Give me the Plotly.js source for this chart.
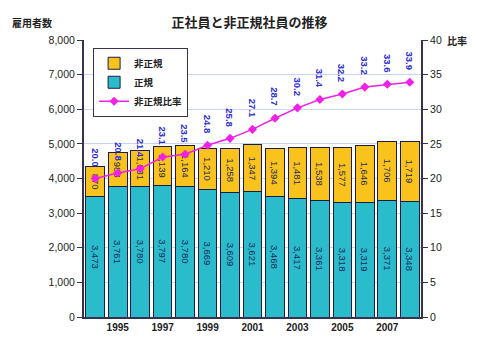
<!DOCTYPE html>
<html><head><meta charset="utf-8">
<script src="https://cdn.plot.ly/plotly-3.0.1.min.js"></script>
<style>body{margin:0;background:#fff}#c{width:480px;height:349px}</style>
</head><body><div id="c"></div>
<script>
const years = [1994,1995,1996,1997,1998,1999,2000,2001,2002,2003,2004,2005,2006,2007,2008];
const regular = [3473,3761,3780,3797,3780,3669,3609,3621,3468,3417,3361,3318,3319,3371,3348];
const nonRegular = [870,988,1031,1139,1164,1210,1258,1347,1394,1481,1538,1577,1646,1706,1719];
const ratio = [20.0,20.8,21.4,23.1,23.5,24.8,25.8,27.1,28.7,30.2,31.4,32.2,33.2,33.6,33.9];
const tickYears = [1995,1997,1999,2001,2003,2005,2007];
const tickLabels = ["1995","1997","1999","2001","2003","2005","2007"];

const fmt = v => v.toLocaleString('en-US');
const jp = '"Noto Sans CJK JP", sans-serif';
const lat = 'Arial, "Liberation Sans", sans-serif';

const traces = [
  {type:'bar', x:years, y:regular, name:'正規', legendrank:2,
   marker:{color:'#2bbccc', line:{color:'#1c1c4a', width:1}},
   text:regular.map(fmt), textposition:'inside', insidetextanchor:'middle', textangle:90,
   constraintext:'none', textfont:{family:lat, size:9.5, color:'#1c2a5a'}, hoverinfo:'none'},
  {type:'bar', x:years, y:nonRegular, name:'非正規', legendrank:1,
   marker:{color:'#f9c21c', line:{color:'#1c1c4a', width:1}},
   text:nonRegular.map(fmt), textposition:'inside', insidetextanchor:'middle', textangle:90,
   constraintext:'none', textfont:{family:lat, size:9.5, color:'#1c2a5a'}, hoverinfo:'none'},
  {type:'scatter', mode:'lines+markers', x:years, y:ratio, yaxis:'y2', name:'非正規比率', legendrank:3,
   line:{color:'#f020e8', width:1.5}, marker:{symbol:'diamond', size:7, color:'#f020e8'}, hoverinfo:'none'}
];

const annotations = years.map((yr,i)=>({
  x:yr, y:ratio[i], xref:'x', yref:'y2', text:ratio[i].toFixed(1),
  showarrow:false, textangle:90, yshift:21,
  font:{family:lat, size:9.5, color:'#2a2ad8', weight:'bold'}
}));
annotations.push({xref:'paper', yref:'paper', x:-0.22, y:1.03, xanchor:'left', yanchor:'bottom',
  text:'<b>雇用者数</b>', showarrow:false, font:{family:jp, size:10, color:'#222'}});
annotations.push({xref:'paper', yref:'paper', x:1.07, y:1.0, xanchor:'left', yanchor:'middle',
  text:'<b>比率</b>', showarrow:false, font:{family:jp, size:10, color:'#222'}});

const layout = {
  width:480, height:349,
  margin:{l:84, r:59, t:40, b:32},
  paper_bgcolor:'#fff', plot_bgcolor:'#fff',
  barmode:'stack', bargap:0.17,
  title:{text:'<b>正社員と非正規社員の推移</b>', x:0.52, xanchor:'center', y:0.935, yanchor:'middle',
    font:{family:jp, size:13, color:'#222'}},
  xaxis:{range:[1993.5,2008.5], tickvals:tickYears, ticktext:tickLabels, showgrid:false,
    ticks:'', showline:true, linecolor:'#3a3050', linewidth:2, zeroline:false,
    tickfont:{family:lat, size:10, color:'#222', weight:'bold'}},
  yaxis:{range:[0,8000], dtick:1000, tickformat:',d', showgrid:true, gridcolor:'#c6d6f2',
    ticks:'outside', ticklen:5, tickcolor:'#3a3050', showline:true, linecolor:'#3a3050', linewidth:2,
    zeroline:false, tickfont:{family:lat, size:10.5, color:'#222'}},
  yaxis2:{range:[0,40], dtick:5, overlaying:'y', side:'right', showgrid:false,
    ticks:'outside', ticklen:5, tickcolor:'#3a3050', showline:true, linecolor:'#3a3050', linewidth:2,
    zeroline:false, tickfont:{family:lat, size:10.5, color:'#222'}},
  legend:{x:0.027, y:0.972, xanchor:'left', yanchor:'top', bgcolor:'#fff', traceorder:'normal',
    bordercolor:'#3a3050', borderwidth:1, tracegroupgap:0, itemwidth:30,
    font:{family:jp, size:9.5, color:'#222', weight:'bold'}},
  annotations:annotations,
  showlegend:true
};
Plotly.newPlot('c', traces, layout, {staticPlot:true, displayModeBar:false});
</script></body></html>
